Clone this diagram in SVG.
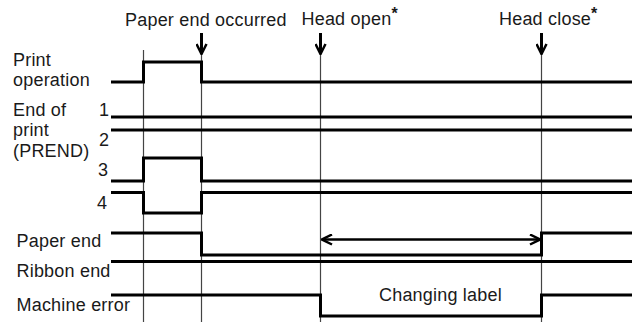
<svg xmlns="http://www.w3.org/2000/svg" width="632" height="322" viewBox="0 0 632 322">
<style>
text{font-family:"Liberation Sans",Arial,sans-serif;font-size:18px;fill:#1a1a1a;letter-spacing:0.2px}
.star{font-size:16px;font-weight:bold}
.sig{fill:none;stroke:#000;stroke-width:3;stroke-linejoin:miter}
.guide{fill:none;stroke:#444;stroke-width:1.2}
.arr{fill:none;stroke:#000;stroke-width:3}
.dim{fill:none;stroke:#000;stroke-width:2.5}
</style>
<defs>
<marker id="chev" viewBox="0 0 12 12" refX="11" refY="6" markerWidth="12" markerHeight="12" markerUnits="userSpaceOnUse" orient="auto-start-reverse">
<path d="M1,1 L11,6 L1,11" fill="none" stroke="#000" stroke-width="2.5"/>
</marker>
</defs>
<g id="labels">
<text x="13" y="66">Print</text>
<text x="13" y="86">operation</text>
<text x="13" y="116">End of</text>
<text x="13" y="136">print</text>
<text x="13" y="157">(PREND)</text>
<text x="99" y="116">1</text>
<text x="99" y="146">2</text>
<text x="98" y="176">3</text>
<text x="97" y="209">4</text>
<text x="16.5" y="247">Paper end</text>
<text x="16.5" y="276.5">Ribbon end</text>
<text x="16.5" y="310.5">Machine error</text>
<text x="125" y="26">Paper end occurred</text>
<text x="301.5" y="25">Head open<tspan class="star" dy="-6">*</tspan></text>
<text x="499" y="25">Head close<tspan class="star" dy="-6">*</tspan></text>
<text x="379" y="300.5">Changing label</text>
</g>
<g id="guides">
<line class="guide" x1="143.5" y1="50" x2="143.5" y2="322"/>
<line class="guide" x1="201.5" y1="50" x2="201.5" y2="322"/>
<line class="guide" x1="320.5" y1="50" x2="320.5" y2="322"/>
<line class="guide" x1="541.5" y1="50" x2="541.5" y2="322"/>
</g>
<g id="event-arrows">
<line class="arr" x1="201.5" y1="33" x2="201.5" y2="54" marker-end="url(#chev)"/>
<line class="arr" x1="320.5" y1="33" x2="320.5" y2="54" marker-end="url(#chev)"/>
<line class="arr" x1="541.5" y1="33" x2="541.5" y2="54" marker-end="url(#chev)"/>
</g>
<g id="signal-print-operation"><path class="sig" d="M111,82 H143.5 V62 H201.5 V82 H632"/></g>
<g id="signal-prend-1"><path class="sig" d="M111,117 H632"/></g>
<g id="signal-prend-2"><path class="sig" d="M111,130 H632"/></g>
<g id="signal-prend-3"><path class="sig" d="M111,181 H143.5 V158 H201.5 V181 H632"/></g>
<g id="signal-prend-4"><path class="sig" d="M111,192.5 H143.5 V213 H201.5 V192.5 H632"/></g>
<g id="signal-paper-end"><path class="sig" d="M111,233 H201.5 V255 H541.5 V233 H632"/></g>
<g id="signal-ribbon-end"><path class="sig" d="M111,261.5 H632"/></g>
<g id="signal-machine-error"><path class="sig" d="M111,295 H320.5 V316 H541.5 V295 H632"/></g>
<g id="connectors">
<line class="dim" x1="322" y1="239.5" x2="540" y2="239.5" marker-start="url(#chev)" marker-end="url(#chev)"/>
</g>
</svg>
